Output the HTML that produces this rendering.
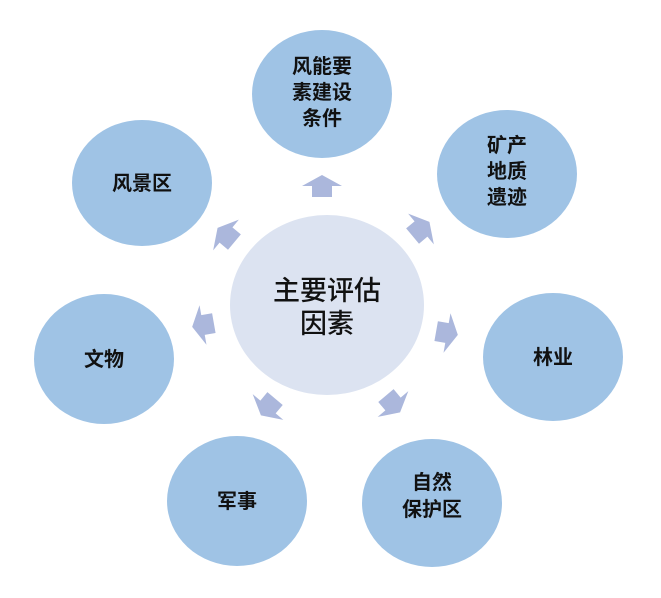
<!DOCTYPE html>
<html><head><meta charset="utf-8"><style>
html,body{margin:0;padding:0;background:#fff;}
svg{display:block;}
text{font-family:"Liberation Sans","Noto Sans CJK SC",sans-serif;fill:#111;text-anchor:middle;}
</style></head><body>
<svg width="661" height="598" viewBox="0 0 661 598" xmlns="http://www.w3.org/2000/svg">
<defs>
<polygon id="ar" points="0,-11 20,0 10,0 10,11 -10,11 -10,0 -20,0" fill="#abb7dc"/>
</defs>
<g fill="#9fc3e5">
<ellipse cx="322" cy="94" rx="70" ry="64"/>
<ellipse cx="507" cy="174" rx="70" ry="64"/>
<ellipse cx="553" cy="357" rx="70" ry="64"/>
<ellipse cx="432" cy="503" rx="70" ry="64"/>
<ellipse cx="237" cy="501" rx="70" ry="65"/>
<ellipse cx="104" cy="359" rx="70" ry="65"/>
<ellipse cx="142" cy="183" rx="70" ry="63"/>
</g>
<ellipse cx="327" cy="305" rx="97" ry="90" fill="#dce3f1"/>
<use href="#ar" transform="translate(322,186)"/>
<use href="#ar" transform="translate(421,229) rotate(50)"/>
<use href="#ar" transform="translate(447,333) rotate(100)"/>
<use href="#ar" transform="translate(393,404) rotate(140)"/>
<use href="#ar" transform="translate(268,407) rotate(-140)"/>
<use href="#ar" transform="translate(203,325) rotate(-100)"/>
<use href="#ar" transform="translate(226,235) rotate(-50)"/>
<text x="327" y="300" font-size="27" font-weight="500">主要评估</text>
<text x="327" y="333" font-size="27" font-weight="500">因素</text>
<g font-size="20" font-weight="bold">
<text x="322" y="73">风能要</text>
<text x="322" y="99">素建设</text>
<text x="322" y="125">条件</text>
<text x="507" y="152">矿产</text>
<text x="507" y="178">地质</text>
<text x="507" y="204">遗迹</text>
<text x="553" y="364">林业</text>
<text x="432" y="489">自然</text>
<text x="432" y="516">保护区</text>
<text x="237" y="508">军事</text>
<text x="104" y="366">文物</text>
<text x="142" y="190">风景区</text>
</g>
</svg>
</body></html>
